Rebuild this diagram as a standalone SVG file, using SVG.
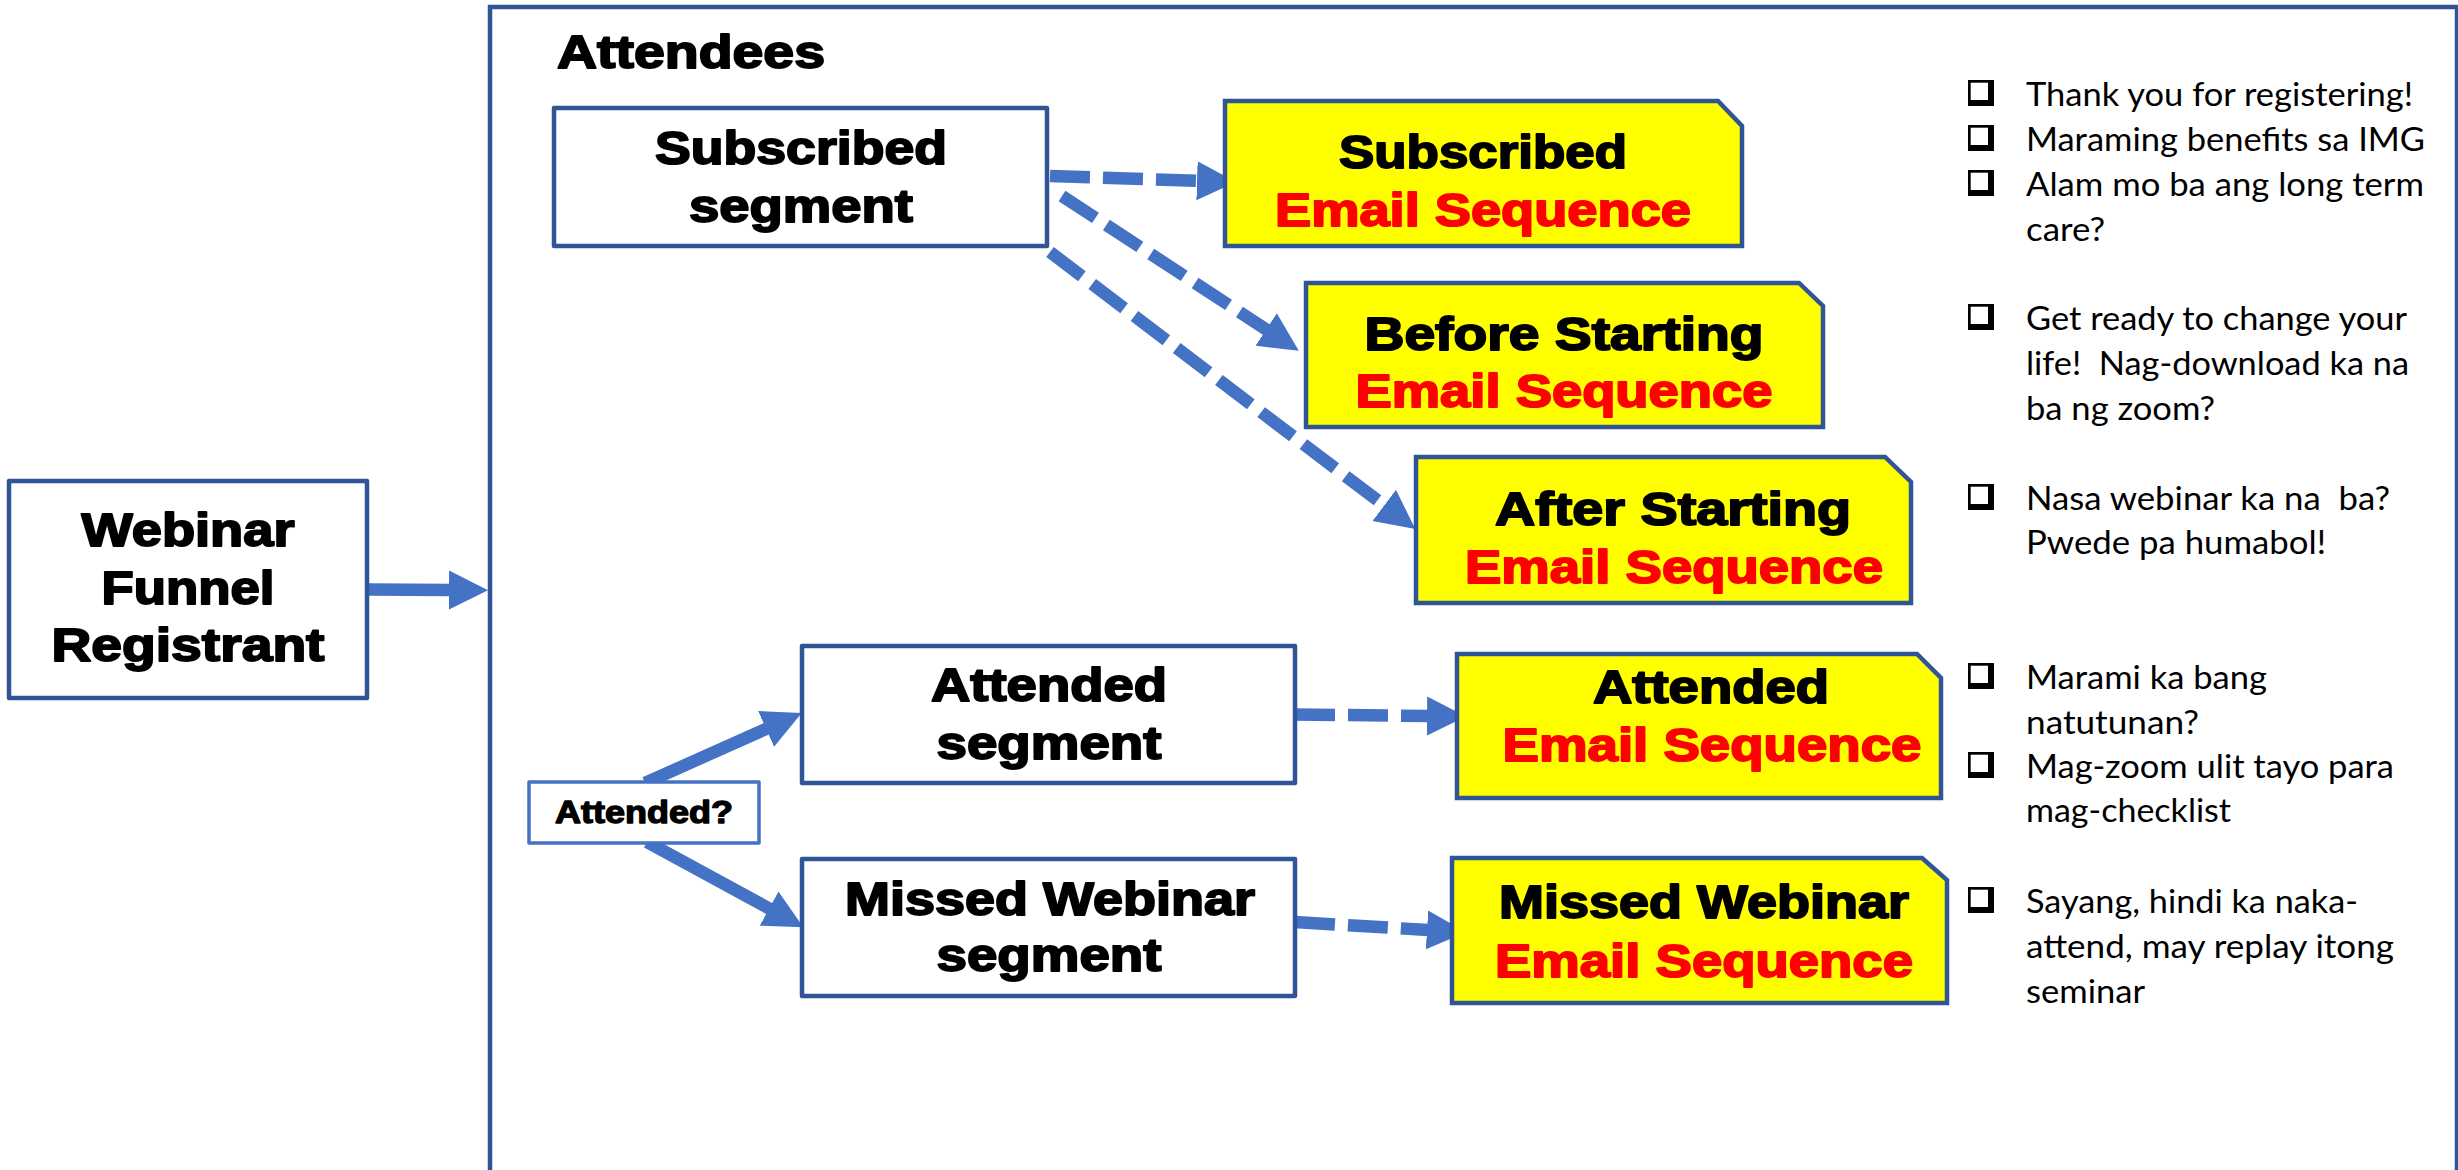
<svg xmlns="http://www.w3.org/2000/svg" width="2458" height="1170" viewBox="0 0 2458 1170">
  <style>
    .box { fill: #FFFFFF; stroke: #2F5597; stroke-width: 4.5; stroke-linejoin: round; }
    .seq { fill: #FFFF00; stroke: #2F5597; stroke-width: 4.5; stroke-linejoin: miter; }
    .ask { fill: #FFFFFF; stroke: #4472C4; stroke-width: 3.5; stroke-linejoin: round; }
    .frame { fill: none; stroke: #2F5597; stroke-width: 4.5; }
    .hd { font-family: "Liberation Sans", Arial, sans-serif; font-weight: bold; font-size: 47px; stroke-width: 1.9; stroke-linejoin: round; }
    .sm { font-size: 31px; stroke-width: 1.3; }
    .blk { fill: #000000; stroke: #000000; }
    .red { fill: #FF0000; stroke: #FF0000; }
    .mid { text-anchor: middle; }
    .note { font-family: Lato, "Open Sans", sans-serif; font-size: 33.5px; fill: #000000; white-space: pre; }
    .flow { fill: none; stroke: #4472C4; stroke-width: 12.5; stroke-linecap: butt; marker-end: url(#head); }
    .dash { stroke-dasharray: 40 13; }
  </style>
  <defs>
    <marker id="head" viewBox="0 -20 40 40" refX="1" refY="0" markerWidth="40" markerHeight="40" markerUnits="userSpaceOnUse" orient="auto">
      <path d="M0,-19.5 L39,0 L0,19.5 Z" fill="#4472C4"/>
    </marker>
    <!-- shadowed check box used in front of each message line -->
    <g id="chk">
      <rect x="0" y="0" width="26" height="26" fill="#000000"/>
      <rect x="2.7" y="2.7" width="17.3" height="17.3" fill="#FFFFFF"/>
    </g>
  </defs>

  <rect width="2458" height="1170" fill="#FFFFFF"/>

  <!-- attendees frame -->
  <g id="attendees">
    <rect class="frame" x="490" y="7" width="1967" height="1200"/>
    <text class="hd blk" x="557" y="68" textLength="268" lengthAdjust="spacingAndGlyphs">Attendees</text>
  </g>

  <!-- connectors -->
  <g id="connectors">
    <path class="flow" d="M369,589.5 L450,590"/>
    <path class="flow dash" d="M1050,176 L1198,180.8"/>
    <path class="flow dash" d="M1062,196 L1267,330"/>
    <path class="flow dash" d="M1050,252 L1385,506"/>
    <path class="flow" d="M645,783 L767,728.5"/>
    <path class="flow" d="M647,842 L770,909"/>
    <path class="flow dash" d="M1295,714.5 L1428,716"/>
    <path class="flow dash" d="M1295,922 L1428,930"/>
  </g>

  <!-- source node -->
  <g id="registrant">
    <rect class="box" x="9" y="481" width="358" height="217"/>
    <text class="hd blk mid" x="188" y="546" textLength="213" lengthAdjust="spacingAndGlyphs">Webinar</text>
    <text class="hd blk mid" x="188" y="604" textLength="173" lengthAdjust="spacingAndGlyphs">Funnel</text>
    <text class="hd blk mid" x="188" y="661" textLength="273" lengthAdjust="spacingAndGlyphs">Registrant</text>
  </g>

  <!-- segments -->
  <g id="subscribed-segment">
    <rect class="box" x="554" y="108" width="493" height="138"/>
    <text class="hd blk mid" x="801" y="164" textLength="292" lengthAdjust="spacingAndGlyphs">Subscribed</text>
    <text class="hd blk mid" x="801" y="222" textLength="224" lengthAdjust="spacingAndGlyphs">segment</text>
  </g>

  <g id="attended-segment">
    <rect class="box" x="802" y="646" width="493" height="137"/>
    <text class="hd blk mid" x="1049" y="701" textLength="236" lengthAdjust="spacingAndGlyphs">Attended</text>
    <text class="hd blk mid" x="1049" y="759" textLength="225" lengthAdjust="spacingAndGlyphs">segment</text>
  </g>

  <g id="missed-segment">
    <rect class="box" x="802" y="859" width="493" height="137"/>
    <text class="hd blk mid" x="1050" y="915" textLength="410" lengthAdjust="spacingAndGlyphs">Missed Webinar</text>
    <text class="hd blk mid" x="1049" y="971" textLength="225" lengthAdjust="spacingAndGlyphs">segment</text>
  </g>

  <g id="attended-question">
    <rect class="ask" x="529" y="782" width="230" height="61"/>
    <text class="hd sm blk mid" x="644" y="823" textLength="178" lengthAdjust="spacingAndGlyphs">Attended?</text>
  </g>

  <!-- email sequences -->
  <g id="subscribed-sequence">
    <path class="seq" d="M1225,101 H1718 L1742,126 V246 H1225 Z"/>
    <text class="hd blk mid" x="1483" y="168" textLength="288" lengthAdjust="spacingAndGlyphs">Subscribed</text>
    <text class="hd red mid" x="1483" y="226" textLength="416" lengthAdjust="spacingAndGlyphs">Email Sequence</text>
  </g>

  <g id="before-starting-sequence">
    <path class="seq" d="M1306,283 H1799 L1823,306 V427 H1306 Z"/>
    <text class="hd blk mid" x="1564" y="350" textLength="399" lengthAdjust="spacingAndGlyphs">Before Starting</text>
    <text class="hd red mid" x="1564" y="407" textLength="417" lengthAdjust="spacingAndGlyphs">Email Sequence</text>
  </g>

  <g id="after-starting-sequence">
    <path class="seq" d="M1416,457 H1885 L1911,482 V603 H1416 Z"/>
    <text class="hd blk mid" x="1673" y="525" textLength="356" lengthAdjust="spacingAndGlyphs">After Starting</text>
    <text class="hd red mid" x="1674" y="583" textLength="418" lengthAdjust="spacingAndGlyphs">Email Sequence</text>
  </g>

  <g id="attended-sequence">
    <path class="seq" d="M1457,654 H1917 L1941,678 V798 H1457 Z"/>
    <text class="hd blk mid" x="1711" y="703" textLength="236" lengthAdjust="spacingAndGlyphs">Attended</text>
    <text class="hd red mid" x="1712" y="761" textLength="419" lengthAdjust="spacingAndGlyphs">Email Sequence</text>
  </g>

  <g id="missed-sequence">
    <path class="seq" d="M1452,858 H1922 L1947,880 V1003 H1452 Z"/>
    <text class="hd blk mid" x="1704" y="918" textLength="410" lengthAdjust="spacingAndGlyphs">Missed Webinar</text>
    <text class="hd red mid" x="1704" y="977" textLength="418" lengthAdjust="spacingAndGlyphs">Email Sequence</text>
  </g>

  <!-- message checklists -->
  <g id="messages">
    <use href="#chk" x="1968" y="80"/>
    <use href="#chk" x="1968" y="125"/>
    <use href="#chk" x="1968" y="170"/>
    <use href="#chk" x="1968" y="304"/>
    <use href="#chk" x="1968" y="484"/>
    <use href="#chk" x="1968" y="663"/>
    <use href="#chk" x="1968" y="752"/>
    <use href="#chk" x="1968" y="887"/>
    <text class="note" x="2026" y="106" textLength="387" lengthAdjust="spacingAndGlyphs">Thank you for registering!</text>
    <text class="note" x="2026" y="151" textLength="399" lengthAdjust="spacingAndGlyphs">Maraming benefits sa IMG</text>
    <text class="note" x="2026" y="196" textLength="398" lengthAdjust="spacingAndGlyphs">Alam mo ba ang long term</text>
    <text class="note" x="2026" y="241" textLength="79" lengthAdjust="spacingAndGlyphs">care?</text>
    <text class="note" x="2026" y="330" textLength="381" lengthAdjust="spacingAndGlyphs">Get ready to change your</text>
    <text class="note" x="2026" y="375" textLength="383" lengthAdjust="spacingAndGlyphs">life!  Nag-download ka na</text>
    <text class="note" x="2026" y="420" textLength="189" lengthAdjust="spacingAndGlyphs">ba ng zoom?</text>
    <text class="note" x="2026" y="510" textLength="364" lengthAdjust="spacingAndGlyphs">Nasa webinar ka na  ba?</text>
    <text class="note" x="2026" y="554" textLength="300" lengthAdjust="spacingAndGlyphs">Pwede pa humabol!</text>
    <text class="note" x="2026" y="689" textLength="241" lengthAdjust="spacingAndGlyphs">Marami ka bang</text>
    <text class="note" x="2026" y="734" textLength="173" lengthAdjust="spacingAndGlyphs">natutunan?</text>
    <text class="note" x="2026" y="778" textLength="368" lengthAdjust="spacingAndGlyphs">Mag-zoom ulit tayo para</text>
    <text class="note" x="2026" y="822" textLength="205" lengthAdjust="spacingAndGlyphs">mag-checklist</text>
    <text class="note" x="2026" y="913" textLength="332" lengthAdjust="spacingAndGlyphs">Sayang, hindi ka naka-</text>
    <text class="note" x="2026" y="958" textLength="368" lengthAdjust="spacingAndGlyphs">attend, may replay itong</text>
    <text class="note" x="2026" y="1003" textLength="119" lengthAdjust="spacingAndGlyphs">seminar</text>
  </g>
</svg>
